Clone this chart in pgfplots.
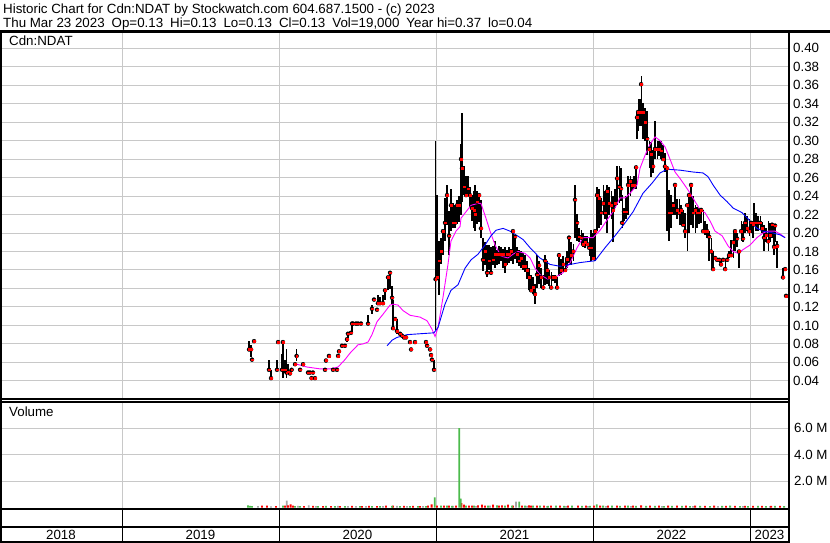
\documentclass[border=0pt]{standalone}
\usepackage{fontspec}
\setmainfont{Liberation Sans}
\usepackage{pgfplots}
\usepackage{pgfplotstable}
\pgfplotsset{compat=1.18}

\definecolor{gridgray}{RGB}{200,200,200}
\definecolor{volgreen}{RGB}{76,187,76}
\definecolor{volred}{RGB}{255,0,0}
\definecolor{volgray}{RGB}{165,165,165}
\definecolor{maline}{RGB}{255,0,255}
\definecolor{longma}{RGB}{0,0,255}

% daily bars: time (decimal year), low, high, close
\pgfplotstableread{
t lo hi cl
2019.809 0.074 0.083 0.074
2019.822 0.066 0.079 0.074
2019.828 0.063 0.063 0.063
2019.841 0.083 0.083 0.083
2019.936 0.052 0.063 0.052
2019.949 0.043 0.052 0.043
2019.987 0.052 0.063 0.052
2019.994 0.082 0.082 0.082
2020.019 0.052 0.069 0.052
2020.025 0.043 0.082 0.082
2020.038 0.048 0.063 0.052
2020.048 0.043 0.074 0.049
2020.057 0.050 0.058 0.050
2020.070 0.048 0.048 0.048
2020.080 0.052 0.052 0.052
2020.102 0.058 0.058 0.058
2020.112 0.062 0.074 0.067
2020.134 0.052 0.052 0.052
2020.153 0.058 0.058 0.058
2020.185 0.049 0.049 0.049
2020.197 0.049 0.049 0.049
2020.207 0.043 0.043 0.043
2020.216 0.049 0.049 0.049
2020.229 0.043 0.043 0.043
2020.293 0.052 0.052 0.052
2020.299 0.062 0.062 0.062
2020.318 0.067 0.067 0.067
2020.344 0.052 0.052 0.052
2020.369 0.052 0.052 0.052
2020.376 0.067 0.067 0.067
2020.382 0.072 0.072 0.072
2020.401 0.078 0.078 0.078
2020.420 0.078 0.078 0.078
2020.433 0.082 0.086 0.085
2020.439 0.086 0.093 0.091
2020.458 0.092 0.092 0.092
2020.465 0.092 0.102 0.102
2020.471 0.102 0.102 0.102
2020.490 0.102 0.102 0.102
2020.503 0.102 0.102 0.102
2020.522 0.102 0.102 0.102
2020.567 0.102 0.111 0.102
2020.592 0.112 0.122 0.118
2020.605 0.128 0.128 0.128
2020.624 0.117 0.117 0.117
2020.630 0.122 0.133 0.124
2020.643 0.122 0.131 0.124
2020.662 0.124 0.133 0.124
2020.675 0.127 0.138 0.138
2020.694 0.138 0.153 0.152
2020.707 0.139 0.157 0.157
2020.720 0.123 0.143 0.130
2020.726 0.096 0.128 0.097
2020.739 0.107 0.107 0.107
2020.751 0.091 0.107 0.094
2020.771 0.091 0.091 0.091
2020.783 0.089 0.089 0.089
2020.796 0.087 0.087 0.087
2020.809 0.087 0.087 0.087
2020.834 0.082 0.082 0.082
2020.841 0.074 0.074 0.074
2020.866 0.082 0.082 0.082
2020.936 0.082 0.082 0.082
2020.943 0.078 0.078 0.078
2020.962 0.074 0.074 0.074
2020.968 0.068 0.068 0.068
2020.974 0.063 0.063 0.063
2020.987 0.052 0.063 0.052
2020.997 0.095 0.300 0.150
2021.006 0.152 0.241 0.152
2021.019 0.133 0.191 0.170
2021.032 0.166 0.195 0.180
2021.044 0.176 0.202 0.202
2021.057 0.191 0.238 0.211
2021.070 0.209 0.252 0.241
2021.083 0.176 0.224 0.197
2021.095 0.202 0.248 0.230
2021.108 0.205 0.232 0.211
2021.121 0.205 0.230 0.211
2021.134 0.210 0.236 0.230
2021.146 0.212 0.240 0.230
2021.159 0.219 0.296 0.280
2021.165 0.234 0.330 0.270
2021.178 0.241 0.273 0.250
2021.191 0.241 0.262 0.241
2021.204 0.241 0.262 0.248
2021.216 0.228 0.250 0.241
2021.229 0.213 0.241 0.227
2021.242 0.205 0.245 0.225
2021.248 0.202 0.252 0.220
2021.261 0.210 0.245 0.234
2021.274 0.212 0.241 0.241
2021.286 0.195 0.236 0.205
2021.299 0.159 0.195 0.171
2021.312 0.165 0.190 0.180
2021.325 0.152 0.187 0.157
2021.337 0.160 0.187 0.170
2021.350 0.162 0.185 0.157
2021.363 0.165 0.186 0.171
2021.376 0.162 0.191 0.177
2021.388 0.165 0.182 0.177
2021.401 0.166 0.186 0.177
2021.414 0.170 0.185 0.177
2021.427 0.162 0.183 0.177
2021.439 0.157 0.185 0.166
2021.452 0.165 0.182 0.177
2021.465 0.168 0.185 0.177
2021.477 0.170 0.183 0.180
2021.490 0.166 0.202 0.202
2021.503 0.172 0.196 0.196
2021.516 0.168 0.185 0.177
2021.528 0.164 0.182 0.170
2021.541 0.162 0.181 0.173
2021.554 0.160 0.178 0.164
2021.567 0.158 0.176 0.164
2021.579 0.150 0.170 0.160
2021.592 0.138 0.162 0.152
2021.605 0.136 0.155 0.138
2021.618 0.134 0.152 0.141
2021.630 0.123 0.145 0.134
2021.643 0.141 0.176 0.155
2021.656 0.145 0.170 0.165
2021.669 0.141 0.162 0.152
2021.682 0.138 0.155 0.141
2021.694 0.144 0.176 0.170
2021.707 0.145 0.170 0.160
2021.720 0.143 0.160 0.152
2021.733 0.141 0.158 0.141
2021.745 0.148 0.155 0.152
2021.758 0.146 0.155 0.152
2021.771 0.141 0.152 0.141
2021.783 0.154 0.178 0.176
2021.796 0.155 0.172 0.160
2021.809 0.158 0.175 0.166
2021.822 0.160 0.172 0.160
2021.834 0.162 0.180 0.172
2021.847 0.168 0.195 0.195
2021.860 0.165 0.190 0.176
2021.873 0.170 0.188 0.180
2021.885 0.195 0.252 0.236
2021.898 0.191 0.221 0.211
2021.911 0.190 0.205 0.196
2021.924 0.187 0.203 0.195
2021.936 0.185 0.200 0.188
2021.949 0.184 0.197 0.190
2021.962 0.186 0.197 0.188
2021.975 0.175 0.196 0.184
2021.987 0.170 0.203 0.184
2022.000 0.172 0.200 0.173
2022.013 0.170 0.202 0.202
2022.025 0.202 0.250 0.241
2022.038 0.205 0.248 0.238
2022.051 0.209 0.238 0.222
2022.064 0.220 0.252 0.232
2022.076 0.215 0.245 0.222
2022.089 0.200 0.252 0.245
2022.102 0.220 0.250 0.232
2022.115 0.215 0.245 0.230
2022.127 0.190 0.240 0.225
2022.140 0.227 0.248 0.232
2022.153 0.230 0.273 0.259
2022.166 0.232 0.272 0.250
2022.178 0.235 0.270 0.248
2022.185 0.205 0.241 0.211
2022.197 0.213 0.227 0.223
2022.210 0.215 0.240 0.223
2022.223 0.220 0.262 0.252
2022.236 0.240 0.262 0.256
2022.248 0.245 0.258 0.252
2022.261 0.248 0.262 0.252
2022.274 0.248 0.271 0.271
2022.280 0.302 0.331 0.325
2022.287 0.310 0.345 0.331
2022.299 0.316 0.345 0.331
2022.306 0.316 0.370 0.361
2022.318 0.302 0.341 0.331
2022.331 0.300 0.335 0.320
2022.344 0.284 0.332 0.302
2022.357 0.270 0.300 0.291
2022.369 0.261 0.298 0.285
2022.382 0.265 0.290 0.272
2022.395 0.280 0.321 0.291
2022.408 0.280 0.300 0.291
2022.420 0.283 0.300 0.291
2022.433 0.280 0.300 0.289
2022.446 0.283 0.295 0.280
2022.458 0.266 0.287 0.272
2022.471 0.202 0.270 0.270
2022.484 0.191 0.246 0.222
2022.497 0.205 0.241 0.222
2022.509 0.219 0.234 0.230
2022.522 0.219 0.252 0.252
2022.535 0.215 0.237 0.225
2022.548 0.209 0.237 0.222
2022.560 0.209 0.230 0.225
2022.573 0.209 0.225 0.209
2022.586 0.195 0.222 0.202
2022.599 0.181 0.230 0.230
2022.611 0.200 0.241 0.241
2022.624 0.209 0.252 0.252
2022.637 0.205 0.240 0.222
2022.650 0.200 0.230 0.225
2022.662 0.205 0.228 0.222
2022.675 0.210 0.227 0.222
2022.688 0.211 0.225 0.225
2022.701 0.202 0.225 0.202
2022.713 0.198 0.213 0.202
2022.726 0.195 0.210 0.202
2022.739 0.170 0.202 0.196
2022.752 0.161 0.195 0.180
2022.764 0.161 0.180 0.161
2022.777 0.171 0.173 0.173
2022.790 0.171 0.171 0.171
2022.803 0.168 0.171 0.171
2022.815 0.166 0.171 0.166
2022.828 0.171 0.171 0.171
2022.841 0.161 0.171 0.161
2022.854 0.171 0.176 0.171
2022.866 0.173 0.180 0.176
2022.879 0.176 0.192 0.176
2022.892 0.173 0.202 0.190
2022.904 0.180 0.202 0.202
2022.917 0.185 0.200 0.194
2022.930 0.162 0.180 0.180
2022.943 0.191 0.213 0.202
2022.955 0.190 0.210 0.194
2022.968 0.200 0.222 0.211
2022.981 0.202 0.218 0.205
2022.994 0.197 0.215 0.202
2023.006 0.200 0.213 0.211
2023.019 0.195 0.213 0.209
2023.025 0.209 0.232 0.211
2023.038 0.202 0.222 0.211
2023.051 0.202 0.218 0.211
2023.064 0.205 0.218 0.211
2023.076 0.200 0.212 0.205
2023.089 0.181 0.209 0.195
2023.102 0.190 0.205 0.198
2023.115 0.181 0.213 0.191
2023.127 0.190 0.211 0.198
2023.140 0.195 0.209 0.209
2023.153 0.176 0.208 0.185
2023.159 0.190 0.208 0.208
2023.172 0.162 0.191 0.186
2023.210 0.152 0.162 0.152
2023.223 0.161 0.161 0.161
2023.229 0.132 0.132 0.132
}\ohlc

\begin{document}
\begin{tikzpicture}[x=1pt, y=1pt, font=\fontsize{13.33}{16}\selectfont]

% ---- price panel
\begin{axis}[
  at={(0pt,144pt)}, anchor=south west, scale only axis,
  width=789pt, height=367pt,
  xmin=2018.223, xmax=2023.248, ymin=0.0204, ymax=0.4175,
  xtick={2019,2020,2021,2022,2023}, xticklabels={},
  ytick={0.04,0.06,0.08,0.10,0.12,0.14,0.16,0.18,0.20,0.22,0.24,0.26,0.28,0.30,0.32,0.34,0.36,0.38,0.40},
  yticklabels={0.04,0.06,0.08,0.10,0.12,0.14,0.16,0.18,0.20,0.22,0.24,0.26,0.28,0.30,0.32,0.34,0.36,0.38,0.40},
  yticklabel pos=right,
  yticklabel style={anchor=west, inner sep=0pt, xshift=4pt},
  major tick length=0pt,
  grid=major, major grid style={gridgray, line width=1pt},
  axis line style={black, line width=1.3pt},
]
\addplot[black, mark=none, only marks,
  error bars/.cd, y dir=both, y explicit, error mark=none,
  error bar style={black, line width=1.2pt}]
  table[x=t, y=cl, y error plus expr=\thisrow{hi}-\thisrow{cl},
        y error minus expr=\thisrow{cl}-\thisrow{lo}] {\ohlc};
\addplot[maline, line width=0.9pt] coordinates {
  (2020.115,0.058) (2020.178,0.055) (2020.261,0.053) (2020.325,0.053)
  (2020.376,0.055) (2020.420,0.063) (2020.452,0.070) (2020.503,0.079)
  (2020.535,0.080) (2020.567,0.082) (2020.592,0.090) (2020.624,0.104)
  (2020.662,0.112) (2020.707,0.122) (2020.726,0.123) (2020.758,0.122)
  (2020.790,0.116) (2020.834,0.111) (2020.898,0.109) (2020.943,0.105)
  (2020.974,0.096) (2020.994,0.088) (2021.013,0.098) (2021.044,0.130)
  (2021.076,0.166) (2021.095,0.191) (2021.127,0.202) (2021.153,0.207)
  (2021.159,0.216) (2021.191,0.223) (2021.223,0.230) (2021.267,0.232)
  (2021.286,0.232) (2021.318,0.216) (2021.344,0.202) (2021.376,0.187)
  (2021.414,0.175) (2021.458,0.173) (2021.490,0.177) (2021.522,0.180)
  (2021.567,0.178) (2021.599,0.173) (2021.630,0.162) (2021.662,0.155)
  (2021.713,0.150) (2021.758,0.152) (2021.809,0.157) (2021.854,0.168)
  (2021.898,0.184) (2021.936,0.195) (2022.000,0.195) (2022.045,0.203)
  (2022.089,0.214) (2022.127,0.223) (2022.172,0.238) (2022.204,0.238)
  (2022.236,0.243) (2022.280,0.252) (2022.299,0.270) (2022.331,0.284)
  (2022.363,0.296) (2022.395,0.304) (2022.427,0.300) (2022.459,0.293)
  (2022.490,0.280) (2022.522,0.266) (2022.554,0.259) (2022.599,0.248)
  (2022.618,0.243) (2022.650,0.234) (2022.682,0.225) (2022.713,0.222)
  (2022.745,0.213) (2022.777,0.202) (2022.822,0.197) (2022.860,0.186)
  (2022.892,0.180) (2022.924,0.178) (2022.955,0.182) (2023.000,0.187)
  (2023.044,0.195) (2023.083,0.200) (2023.115,0.202) (2023.159,0.202)
  (2023.191,0.199) (2023.223,0.195)
};
\addplot[longma, line width=0.9pt] coordinates {
  (2020.688,0.078) (2020.720,0.084) (2020.751,0.087) (2020.815,0.090)
  (2020.898,0.091) (2020.987,0.092) (2021.013,0.098) (2021.057,0.123)
  (2021.095,0.138) (2021.140,0.144) (2021.185,0.162) (2021.223,0.171)
  (2021.267,0.177) (2021.312,0.187) (2021.350,0.197) (2021.382,0.203)
  (2021.427,0.205) (2021.471,0.202) (2021.509,0.198) (2021.554,0.193)
  (2021.599,0.184) (2021.662,0.173) (2021.726,0.166) (2021.790,0.164)
  (2021.854,0.166) (2021.917,0.168) (2022.013,0.170) (2022.076,0.184)
  (2022.140,0.197) (2022.204,0.211) (2022.255,0.223) (2022.318,0.243)
  (2022.376,0.254) (2022.427,0.265) (2022.471,0.269) (2022.554,0.268)
  (2022.637,0.266) (2022.700,0.265) (2022.732,0.261) (2022.764,0.252)
  (2022.809,0.241) (2022.853,0.234) (2022.892,0.227) (2022.949,0.222)
  (2023.000,0.213) (2023.044,0.205) (2023.083,0.202) (2023.146,0.200)
  (2023.191,0.198) (2023.223,0.195)
};
\addplot[only marks, mark=square*, mark size=0.85pt, red,
  mark options={draw=none, fill=red}] table[x=t, y=cl] {\ohlc};
\end{axis}

% ---- volume panel (millions of shares)
\begin{axis}[
  at={(0pt,34pt)}, anchor=south west, scale only axis,
  width=789pt, height=107pt,
  xmin=2018.223, xmax=2023.248, ymin=-0.1, ymax=7.96,
  xtick={2019,2020,2021,2022,2023}, xticklabels={},
  ytick={2,4,6}, yticklabels={2.0 M,4.0 M,6.0 M},
  yticklabel pos=right,
  yticklabel style={anchor=west, inner sep=0pt, xshift=5pt},
  major tick length=0pt,
  grid=major, major grid style={gridgray, line width=1pt},
  axis line style={black, line width=1.3pt},
]
\addplot[ybar, bar width=1.8pt, bar shift=0pt, fill=volgray, draw=none] coordinates {
  (2019.866,0.12) (2019.949,0.10) (2020.049,0.53) (2020.121,0.14) (2020.189,0.18)
  (2020.236,0.12) (2020.376,0.14) (2020.439,0.12) (2020.490,0.12) (2020.554,0.12)
  (2020.662,0.12) (2020.751,0.14) (2020.815,0.12) (2020.917,0.12) (2021.108,0.14)
  (2021.255,0.12) (2021.344,0.15) (2021.509,0.45) (2021.579,0.14) (2021.707,0.12)
  (2021.828,0.12) (2021.968,0.12) (2022.083,0.12) (2022.242,0.12) (2022.439,0.12)
  (2022.637,0.12) (2022.796,0.12) (2022.955,0.12) (2023.127,0.12)
};
\addplot[ybar, bar width=1.8pt, bar shift=0pt, fill=volred, draw=none] coordinates {
  (2019.892,0.15) (2019.924,0.15) (2019.981,0.12) (2020.038,0.16) (2020.057,0.18)
  (2020.074,0.25) (2020.089,0.15) (2020.159,0.12) (2020.216,0.13) (2020.280,0.12)
  (2020.331,0.12) (2020.388,0.11) (2020.465,0.13) (2020.529,0.12) (2020.573,0.14)
  (2020.624,0.12) (2020.681,0.16) (2020.726,0.15) (2020.796,0.13) (2020.853,0.14)
  (2020.898,0.12) (2020.949,0.16) (2020.972,0.25) (2021.006,0.16) (2021.051,0.15)
  (2021.083,0.16) (2021.127,0.15) (2021.162,0.35) (2021.178,0.22) (2021.210,0.16)
  (2021.229,0.16) (2021.267,0.18) (2021.293,0.22) (2021.312,0.16) (2021.363,0.22)
  (2021.401,0.16) (2021.420,0.18) (2021.458,0.22) (2021.490,0.16) (2021.548,0.16)
  (2021.592,0.18) (2021.605,0.16) (2021.643,0.16) (2021.688,0.15) (2021.732,0.16)
  (2021.790,0.15) (2021.841,0.16) (2021.904,0.15) (2021.955,0.16) (2022.006,0.16)
  (2022.045,0.15) (2022.095,0.16) (2022.153,0.15) (2022.204,0.16) (2022.255,0.15)
  (2022.306,0.18) (2022.363,0.16) (2022.420,0.15) (2022.478,0.16) (2022.535,0.15)
  (2022.592,0.15) (2022.650,0.15) (2022.713,0.14) (2022.771,0.15) (2022.847,0.14)
  (2022.904,0.13) (2022.968,0.14) (2023.019,0.13) (2023.076,0.14) (2023.134,0.13)
  (2023.191,0.14)
};
\addplot[ybar, bar width=1.8pt, bar shift=0pt, fill=volgreen, draw=none] coordinates {
  (2019.803,0.18) (2019.815,0.14) (2019.828,0.12) (2020.025,0.16) (2020.102,0.12)
  (2020.134,0.12) (2020.248,0.11) (2020.299,0.13) (2020.357,0.12) (2020.420,0.12)
  (2020.516,0.12) (2020.592,0.12) (2020.643,0.12) (2020.720,0.13) (2020.771,0.12)
  (2020.834,0.12) (2020.885,0.12) (2020.936,0.12) (2020.992,0.78) (2021.032,0.15)
  (2021.070,0.16) (2021.102,0.14) (2021.148,6.00) (2021.157,0.68) (2021.191,0.16)
  (2021.242,0.15) (2021.331,0.16) (2021.388,0.18) (2021.439,0.16) (2021.484,0.15)
  (2021.530,0.45) (2021.567,0.16) (2021.618,0.15) (2021.662,0.16) (2021.713,0.13)
  (2021.764,0.15) (2021.815,0.13) (2021.866,0.15) (2021.930,0.13) (2021.981,0.14)
  (2022.023,0.25) (2022.064,0.16) (2022.121,0.15) (2022.172,0.14) (2022.223,0.15)
  (2022.274,0.13) (2022.338,0.14) (2022.395,0.13) (2022.452,0.12) (2022.503,0.14)
  (2022.567,0.13) (2022.618,0.12) (2022.682,0.13) (2022.745,0.12) (2022.822,0.13)
  (2022.873,0.15) (2022.936,0.12) (2022.987,0.12) (2023.051,0.13) (2023.102,0.12)
  (2023.159,0.13) (2023.217,0.12)
};
\end{axis}

% ---- frame, date panel and texts
\draw[line width=2.2pt] (0,511.5) -- (830,511.5);
\draw[line width=1.6pt] (0.8,0) -- (0.8,511.5);
\draw[line width=2.6pt] (789,0) -- (789,511.5);
\draw[line width=2pt] (0,34) -- (789,34);
\draw[line width=2pt] (0,15.7) -- (789,15.7);
\draw[line width=2pt] (0,1) -- (789,1);
\foreach \px in {122,279,436,593,750} \draw[line width=0.9pt] (\px,1) -- (\px,34);
\foreach \px/\yr in {61/2018,200.5/2019,357.5/2020,514.5/2021,671.5/2022,769.5/2023}
  \node[anchor=base, inner sep=0pt] at (\px,3.8) {\yr};

\node[anchor=base west, inner sep=0pt] at (3,529.5)
  {Historic Chart for Cdn:NDAT by Stockwatch.com 604.687.1500 - (c) 2023};
\node[anchor=base west, inner sep=0pt] at (3,515.5)
  {Thu Mar 23 2023\hspace{7pt}Op=0.13\hspace{7pt}Hi=0.13\hspace{7pt}Lo=0.13\hspace{7pt}Cl=0.13\hspace{7pt}Vol=19,000\hspace{7pt}Year hi=0.37\hspace{7pt}lo=0.04};
\node[anchor=base west, inner sep=0pt] at (9,497) {Cdn:NDAT};
\node[anchor=base west, inner sep=0pt] at (9,126) {Volume};

\pgfresetboundingbox
\useasboundingbox (0,0) rectangle (830,543);
\end{tikzpicture}
\end{document}
